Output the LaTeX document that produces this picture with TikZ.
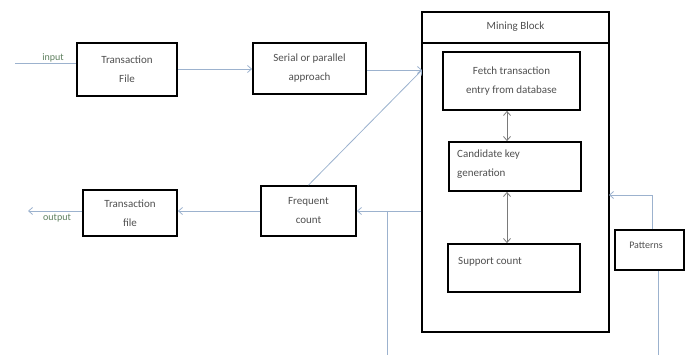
\documentclass[tikz,border=0pt]{standalone}
\usepackage{fontspec}
\setmainfont{Carlito}
\usetikzlibrary{arrows.meta}
\definecolor{lnc}{HTML}{9CB2CE}
\definecolor{txt}{HTML}{505050}
\definecolor{grn}{HTML}{5E7F5E}
\definecolor{dbl}{HTML}{7A7A7A}
\begin{document}
\begin{tikzpicture}[x=1pt,y=-1pt,
  box/.style={draw=black, line width=1.8pt, fill=white, inner sep=0pt, font=\fontsize{11}{19}\selectfont, text=txt, align=center},
  conn/.style={draw=lnc, line width=0.8pt, -{Straight Barb[length=4pt,width=7pt]}},
  plain/.style={draw=lnc, line width=0.8pt},
  dblarrow/.style={draw=dbl, line width=0.8pt, {Straight Barb[length=4pt,width=7pt]}-{Straight Barb[length=4pt,width=7pt]}},
  lbl/.style={font=\fontsize{10}{11}\selectfont, text=grn, inner sep=1pt}]
\useasboundingbox (0,0) rectangle (688,355);
% boxes
\node[box, minimum width=100pt, minimum height=53pt] (tf) at (127,69.5) {Transaction\\File};
\node[box, minimum width=113pt, minimum height=51pt] (sp) at (309.5,68.5) {Serial or parallel\\approach};
\node[box, minimum width=187pt, minimum height=320pt] (mb) at (515.5,172) {};
\draw[black, line width=1.8pt] (mb.west |- 0,43) coordinate (hl) -- (mb.east |- 0,43) coordinate (hr);
\node[font=\fontsize{11}{13}\selectfont, text=txt] (mbt) at (515.5,27) {Mining Block};
\node[box, minimum width=137pt, minimum height=58pt] (fe) at (511.5,81) {Fetch transaction\\entry from database};
\node[box, minimum width=132pt, minimum height=49pt] (ca) at (515,166.5) {};
\node[font=\fontsize{11}{19}\selectfont, text=txt, align=left, anchor=north west, inner sep=0pt] (cat) at (457,150) {Candidate key\\generation};
\node[box, minimum width=132pt, minimum height=48pt] (su) at (514,268) {};
\node[font=\fontsize{11}{13}\selectfont, text=txt, anchor=west, inner sep=0pt] (sut) at (458,262) {Support count};
\node[box, minimum width=69pt, minimum height=40pt] (pa) at (649.5,250) {};
\node[font=\fontsize{10}{12}\selectfont, text=txt, inner sep=0pt] (pat) at (646,245) {Patterns};
\node[box, minimum width=95pt, minimum height=50pt] (fc) at (308.5,211) {Frequent\\count};
\node[box, minimum width=94pt, minimum height=46pt] (tb) at (130,213) {Transaction\\file};
% coordinates
\coordinate (in) at (15,63);
\coordinate (out) at (28,211);
\coordinate (mbin) at (422,70);
\coordinate (pj) at (609,195);
\coordinate (vj) at (387,211);
\coordinate (vb) at (387,355);
\coordinate (pb) at (658,355);
% labels
\node[lbl, anchor=south] (inl) at (53,63) {input};
\node[lbl, anchor=north] (outl) at (57,213) {output};
% connectors
\draw[plain] (in) -- (in -| tf.west);
\draw[conn] (tf.east |- 0,69) -- (sp.west |- 0,69);
\draw[conn] (sp.east |- mbin) -- (mbin);
\draw[conn] (fc.north) -- (mbin);
\draw[conn] (mb.west |- fc.east) -- (fc.east);
\draw[plain] (vj) -- (vb);
\draw[conn] (fc.west) -- (fc.west -| tb.east);
\draw[conn] (tb.west |- out) -- (out);
\draw[conn] ([xshift=2.5pt]pa.north) |- (pj);
\draw[plain] (pb |- pa.south) -- (pb);
\draw[dblarrow] ([xshift=-4.5pt]fe.south) -- ([xshift=-4.5pt]fe.south |- ca.north);
\draw[dblarrow] ([xshift=-8pt]ca.south) -- ([xshift=-8pt]ca.south |- su.north);
\end{tikzpicture}
\end{document}
